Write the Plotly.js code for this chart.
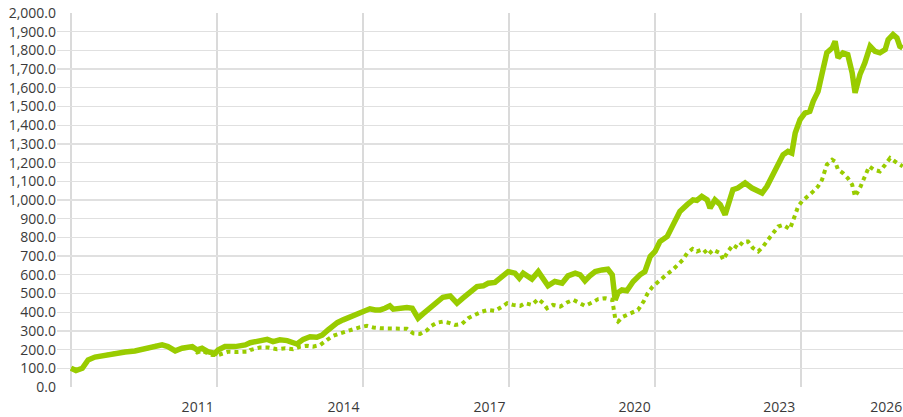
<!DOCTYPE html>
<html>
<head>
<meta charset="utf-8">
<script src="https://cdn.plot.ly/plotly-3.0.1.min.js"></script>
<style>html,body{margin:0;padding:0;background:#fff;}#chart{width:903px;height:417px;}</style>
</head>
<body>
<div id="chart"></div>
<script>
// Fund (solid) — decimal year and index value
const fundYears = [2008.00,2008.10,2008.23,2008.35,2008.49,2008.70,2008.90,2009.11,2009.31,2009.52,2009.73,2009.87,2009.99,2010.14,2010.28,2010.49,2010.59,2010.69,2010.81,2010.96,2011.02,2011.16,2011.37,2011.58,2011.68,2011.88,2012.03,2012.15,2012.29,2012.44,2012.64,2012.77,2012.91,2013.05,2013.16,2013.28,2013.47,2013.59,2013.73,2013.88,2014.00,2014.14,2014.25,2014.35,2014.45,2014.55,2014.62,2014.76,2014.90,2015.01,2015.07,2015.13,2015.23,2015.38,2015.52,2015.64,2015.79,2015.93,2016.05,2016.20,2016.34,2016.47,2016.57,2016.71,2016.86,2016.98,2017.12,2017.21,2017.29,2017.39,2017.47,2017.60,2017.70,2017.80,2017.94,2018.09,2018.21,2018.36,2018.46,2018.56,2018.66,2018.77,2018.91,2019.03,2019.12,2019.18,2019.24,2019.32,2019.42,2019.55,2019.69,2019.79,2019.90,2020.00,2020.10,2020.25,2020.37,2020.51,2020.66,2020.78,2020.86,2020.96,2021.07,2021.13,2021.23,2021.34,2021.44,2021.54,2021.60,2021.70,2021.85,2021.99,2022.10,2022.20,2022.30,2022.40,2022.51,2022.63,2022.73,2022.81,2022.88,2022.98,2023.08,2023.18,2023.25,2023.35,2023.45,2023.53,2023.64,2023.70,2023.76,2023.86,2023.96,2024.05,2024.11,2024.21,2024.31,2024.42,2024.52,2024.62,2024.73,2024.79,2024.89,2024.97,2025.03,2025.09];
const fundValues = [100,88,100,145,160,171,180,187,193,203,220,225,216,193,207,216,198,207,189,180,198,216,216,225,237,248,255,243,252,248,230,255,269,266,278,305,344,359,376,391,407,418,412,412,421,434,416,421,425,421,395,368,391,421,457,480,487,448,475,510,537,541,555,559,594,617,609,582,609,594,577,617,573,541,564,555,594,609,600,568,594,617,626,630,600,466,505,519,515,564,600,617,698,725,778,805,867,939,975,1001,998,1019,1001,957,1001,975,921,1001,1055,1064,1091,1064,1046,1037,1073,1126,1189,1242,1260,1251,1358,1430,1465,1474,1528,1581,1697,1787,1813,1849,1760,1787,1778,1680,1573,1671,1733,1822,1795,1787,1805,1858,1885,1867,1822,1813];

// Benchmark (dotted)
const benchYears = [2008.00,2008.10,2008.23,2008.35,2008.49,2008.70,2008.90,2009.11,2009.31,2009.52,2009.73,2009.87,2009.99,2010.14,2010.28,2010.49,2010.59,2010.69,2010.81,2010.90,2011.02,2011.10,2011.23,2011.43,2011.64,2011.68,2011.88,2012.05,2012.23,2012.40,2012.56,2012.71,2012.85,2012.97,2013.12,2013.26,2013.38,2013.53,2013.67,2013.79,2013.94,2014.08,2014.21,2014.35,2014.49,2014.62,2014.76,2014.90,2015.03,2015.17,2015.32,2015.38,2015.52,2015.64,2015.75,2015.89,2016.03,2016.16,2016.30,2016.44,2016.57,2016.71,2016.86,2016.96,2017.08,2017.23,2017.33,2017.47,2017.60,2017.70,2017.78,2017.90,2018.05,2018.19,2018.32,2018.42,2018.56,2018.71,2018.83,2018.97,2019.12,2019.18,2019.24,2019.34,2019.51,2019.65,2019.77,2019.85,2019.95,2020.06,2020.16,2020.25,2020.36,2020.47,2020.57,2020.66,2020.77,2020.86,2020.99,2021.09,2021.19,2021.34,2021.40,2021.50,2021.60,2021.70,2021.81,2021.91,2022.01,2022.12,2022.22,2022.32,2022.42,2022.53,2022.63,2022.77,2022.88,2022.94,2023.02,2023.14,2023.25,2023.35,2023.43,2023.53,2023.64,2023.70,2023.76,2023.86,2023.96,2024.05,2024.11,2024.21,2024.31,2024.40,2024.50,2024.62,2024.73,2024.83,2024.93,2025.03,2025.09];
const benchValues = [100,88,100,145,160,171,180,187,193,203,220,225,216,193,207,210,185,195,180,171,171,180,189,187,189,198,211,211,202,207,202,216,221,216,225,252,273,287,300,309,320,327,318,314,314,309,311,311,287,284,305,323,344,350,344,332,337,368,386,403,412,407,430,448,439,434,448,439,470,448,421,439,430,452,466,452,434,452,470,475,466,368,350,376,394,412,460,502,537,564,582,604,626,653,680,716,739,725,737,707,734,716,680,725,760,743,778,778,743,725,751,787,823,858,867,844,921,966,993,1019,1046,1073,1108,1189,1215,1206,1162,1144,1117,1082,1019,1064,1126,1180,1162,1153,1189,1224,1206,1189,1180];

// Axis labels
const gridYears = [2008, 2011, 2014, 2017, 2020, 2023];
const labelPositions = [2010.6, 2013.6, 2016.6, 2019.58, 2022.55, 2024.75];
const labelTexts = ['2011', '2014', '2017', '2020', '2023', '2026'];

const green = '#99CC00';

const traces = [
  {x: benchYears, y: benchValues, type: 'scatter', mode: 'lines',
   line: {color: green, width: 4, dash: '4px,4px'}, hoverinfo: 'skip', showlegend: false},
  {x: fundYears, y: fundValues, type: 'scatter', mode: 'lines',
   line: {color: green, width: 5.5}, hoverinfo: 'skip', showlegend: false}
];

const layout = {
  width: 903, height: 417,
  margin: {l: 57, r: 0, t: 13, b: 30},
  paper_bgcolor: '#ffffff', plot_bgcolor: '#ffffff',
  font: {family: 'Open Sans, sans-serif', size: 14, color: '#3a3a3a'},
  xaxis: {
    type: 'linear', range: [2007.71, 2025.095],
    tickmode: 'array', tickvals: labelPositions, ticktext: labelTexts,
    showgrid: false, zeroline: false, showline: false, ticks: '',
    ticklabelstandoff: 10,
    tickfont: {size: 14, color: '#3a3a3a'},
    minor: {tickmode: 'array', tickvals: gridYears, showgrid: true, gridcolor: '#dadada', gridwidth: 1.3, ticks: ''}
  },
  yaxis: {
    range: [0, 2000], tickmode: 'linear', tick0: 0, dtick: 100,
    tickformat: ',.1f', showgrid: true, gridcolor: '#e0e0e0', gridwidth: 1.3,
    zeroline: false, showline: false, ticks: '',
    tickfont: {size: 14, color: '#3a3a3a'}
  }
};

Plotly.newPlot('chart', traces, layout, {displayModeBar: false, staticPlot: true});
</script>
</body>
</html>
